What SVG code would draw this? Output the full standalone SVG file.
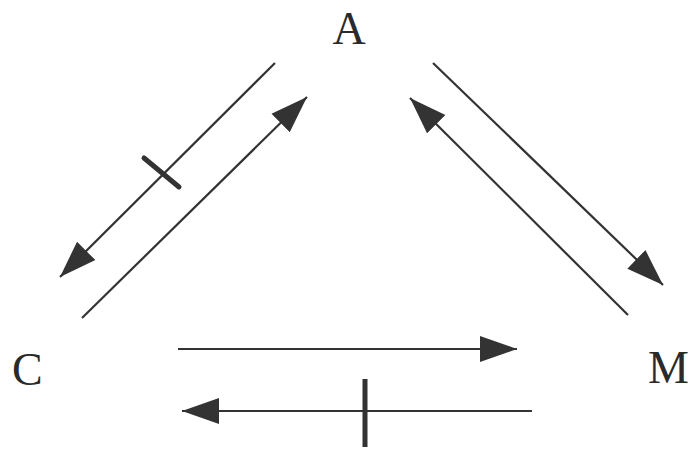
<svg xmlns="http://www.w3.org/2000/svg" width="691" height="450" viewBox="0 0 691 450">
<style>
.lbl{font-family:"Liberation Serif","Times New Roman",serif;font-size:46px;fill:#2a2a2a}
.ln{stroke:#333;stroke-width:2.2;fill:none;marker-end:url(#ah)}
.tick{stroke:#333;stroke-width:5;stroke-linecap:round}
</style>
<defs>
<marker id="ah" markerUnits="userSpaceOnUse" markerWidth="38" markerHeight="30" viewBox="0 0 38 30" refX="37" refY="15" orient="auto">
<path d="M0,2 L37,15 L0,28 z" fill="#333"/>
</marker>
</defs>
<rect width="691" height="450" fill="#fff"/>
<g id="node-A"><text class="lbl" x="349" y="44" text-anchor="middle">A</text></g>
<g id="node-C"><text class="lbl" x="12" y="385">C</text></g>
<g id="node-M"><text class="lbl" x="648" y="383">M</text></g>
<g id="connectors">
<line class="ln" x1="275" y1="63" x2="60" y2="277"/>
<line class="tick" x1="144" y1="158" x2="179" y2="187"/>
<line class="ln" x1="82" y1="318" x2="307" y2="97"/>
<line class="ln" x1="628" y1="315" x2="410" y2="98"/>
<line class="ln" x1="433" y1="63" x2="663" y2="285"/>
<line class="ln" x1="178" y1="349" x2="517" y2="349"/>
<line class="ln" x1="532" y1="411" x2="182" y2="411"/>
<line class="tick" x1="365" y1="379" x2="365" y2="447" style="stroke-linecap:butt"/>
</g>
</svg>
